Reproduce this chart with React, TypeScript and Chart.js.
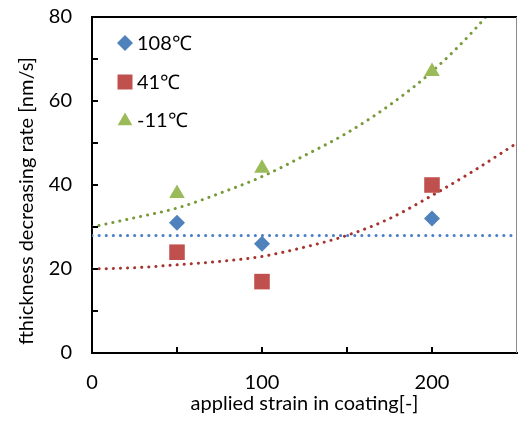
import React, { useEffect, useRef } from "react";
import { Chart, registerables } from "chart.js";

Chart.register(...registerables);

// ---- data ----
const strain = [50, 100, 200];
const rate108 = [31, 26, 32];
const rate41 = [24, 17, 40];
const rateM11 = [38, 44, 67];

const trendX = [0, 25, 50, 75, 100, 125, 150, 175, 200, 225, 250];
const trend108 = [28, 28, 28, 28, 28, 28, 28, 28, 28, 28, 28];
const trend41 = [20, 20.3, 21, 21.8, 23, 25.2, 28, 32, 37.5, 43.5, 50];
const trendM11 = [30, 32.2, 34.5, 38, 42, 47, 52.4, 59, 67, 77, 89];

const xTickLabels = [0, 100, 200];
const yTickLabels = [0, 20, 40, 60, 80];
const xMinorTicks = [50, 100, 150, 200];
const yMinorTicks = [10, 20, 30, 40, 50, 60, 70];

const legendNames = ["108\u2103", "41\u2103", "-11\u2103"];
const xTitle = "applied strain in coating[-]";
const yTitle = "fthickness decreasing rate [nm/s]";

const BLUE = "#4F81BD";
const RED = "#C0504D";
const GREEN = "#9BBB59";
const BLUE_T = "#4A7EC8";
const RED_T = "#A5342F";
const GREEN_T = "#789A3A";

const FONT = "Lato";
const FS = 20;

function pts(xs: number[], ys: number[]) {
  return xs.map((x, i) => ({ x, y: ys[i] }));
}

function drawMarker(ctx: CanvasRenderingContext2D, style: string, x: number, y: number, color: string) {
  ctx.save();
  ctx.fillStyle = color;
  ctx.beginPath();
  if (style === "rectRot") {
    const r = 8;
    ctx.moveTo(x, y - r);
    ctx.lineTo(x + r, y);
    ctx.lineTo(x, y + r);
    ctx.lineTo(x - r, y);
  } else if (style === "rect") {
    const s = 7.5;
    ctx.rect(x - s, y - s, 2 * s, 2 * s);
  } else {
    const r = 8.5;
    for (let k = 0; k < 3; k++) {
      const a = -Math.PI / 2 + (k * 2 * Math.PI) / 3;
      const px = x + r * Math.cos(a);
      const py = y + r * Math.sin(a) + 1;
      if (k === 0) ctx.moveTo(px, py);
      else ctx.lineTo(px, py);
    }
  }
  ctx.closePath();
  ctx.fill();
  ctx.restore();
}

const framePlugin = {
  id: "frame",
  afterDraw(chart: any) {
    const { ctx, chartArea } = chart;
    const { left, right, top, bottom } = chartArea;
    const xs = chart.scales.x;
    const ys = chart.scales.y;
    ctx.save();
    // top border
    ctx.strokeStyle = "#000";
    ctx.lineWidth = 2;
    ctx.beginPath();
    ctx.moveTo(left, top);
    ctx.lineTo(right, top);
    ctx.stroke();
    // right border
    ctx.strokeStyle = "#8a8a8a";
    ctx.lineWidth = 1;
    ctx.beginPath();
    ctx.moveTo(right - 0.5, top);
    ctx.lineTo(right - 0.5, bottom);
    ctx.stroke();
    // inner tick marks
    ctx.strokeStyle = "#000";
    ctx.lineWidth = 2;
    ctx.beginPath();
    for (const v of xMinorTicks) {
      const px = Math.round(xs.getPixelForValue(v));
      ctx.moveTo(px, bottom);
      ctx.lineTo(px, bottom - 6);
    }
    for (const v of yMinorTicks) {
      const py = Math.round(ys.getPixelForValue(v));
      ctx.moveTo(left, py);
      ctx.lineTo(left + 6, py);
    }
    ctx.stroke();
    // y title
    ctx.save();
    ctx.translate(27, 201);
    ctx.rotate(-Math.PI / 2);
    ctx.font = `${FS}px ${FONT}`;
    ctx.textAlign = "center";
    ctx.textBaseline = "middle";
    ctx.fillStyle = "#000";
    ctx.fillText(yTitle, 0, 0);
    ctx.restore();
    // legend
    const styles = ["rectRot", "rect", "triangle"];
    const colors = [BLUE, RED, GREEN];
    const rowsY = [43, 82, 120];
    ctx.font = `${FS}px ${FONT}`;
    ctx.textBaseline = "middle";
    ctx.textAlign = "left";
    for (let i = 0; i < 3; i++) {
      drawMarker(ctx, styles[i], 125, rowsY[i], colors[i]);
      ctx.fillStyle = "#000";
      ctx.fillText(legendNames[i], 137, rowsY[i] + 1);
    }
    ctx.restore();
  },
};

export default function App() {
  const ref = useRef<HTMLCanvasElement | null>(null);
  useEffect(() => {
    if (!ref.current) return;
    const dotted = {
      showLine: true,
      pointRadius: 0,
      borderWidth: 3,
      borderDash: [0.1, 7],
      borderCapStyle: "round" as const,
      fill: false,
      cubicInterpolationMode: "monotone" as const,
    };
    const zeroPad = (s: any) => {
      s.paddingTop = 0;
      s.paddingBottom = 0;
      s.paddingLeft = 0;
      s.paddingRight = 0;
    };
    const chart = new Chart(ref.current, {
      type: "scatter",
      data: {
        datasets: [
          { label: legendNames[0], data: pts(strain, rate108), pointStyle: "rectRot", pointRadius: 8, backgroundColor: BLUE, borderColor: BLUE, borderWidth: 0 },
          { label: legendNames[1], data: pts(strain, rate41), pointStyle: "rect", pointRadius: 11, backgroundColor: RED, borderColor: RED, borderWidth: 0 },
          { label: legendNames[2], data: pts(strain, rateM11), pointStyle: "triangle", pointRadius: 9, backgroundColor: GREEN, borderColor: GREEN, borderWidth: 0 },
          { label: "t108", data: pts(trendX, trend108), borderColor: BLUE_T, ...dotted },
          { label: "t41", data: pts(trendX, trend41), borderColor: RED_T, ...dotted },
          { label: "tm11", data: pts(trendX, trendM11), borderColor: GREEN_T, ...dotted },
        ],
      },
      options: {
        animation: false,
        responsive: false,
        maintainAspectRatio: false,
        layout: { autoPadding: false, padding: { top: 17, right: 1, left: 0, bottom: 0 } },
        plugins: { legend: { display: false }, tooltip: { enabled: false } },
        scales: {
          x: {
            type: "linear",
            min: 0,
            max: 250,
            afterBuildTicks: (s: any) => {
              s.ticks = xTickLabels.map((v) => ({ value: v }));
            },
            afterFit: (s: any) => {
              s.height = 70;
              zeroPad(s);
            },
            grid: { display: false, drawTicks: false },
            border: { display: true, color: "#000", width: 2 },
            ticks: { padding: 18, color: "#000", font: { family: FONT, size: FS } },
            title: {
              display: true,
              text: xTitle,
              color: "#000",
              font: { family: FONT, size: FS },
              padding: { top: 0, bottom: 7 },
            },
          },
          y: {
            type: "linear",
            min: 0,
            max: 80,
            afterBuildTicks: (s: any) => {
              s.ticks = yTickLabels.map((v) => ({ value: v }));
            },
            afterFit: (s: any) => {
              s.width = 92;
              zeroPad(s);
            },
            grid: { display: false, drawTicks: false },
            border: { display: true, color: "#000", width: 2 },
            ticks: { padding: 20, color: "#000", font: { family: FONT, size: FS } },
            title: { display: false, text: yTitle },
          },
        },
      },
      plugins: [framePlugin],
    });
    return () => chart.destroy();
  }, []);
  return (
    <div style={{ position: "absolute", left: 0, top: 0, width: 518, height: 423, background: "#fff" }}>
      <canvas ref={ref} width={518} height={423} style={{ width: 518, height: 423 }} />
    </div>
  );
}
